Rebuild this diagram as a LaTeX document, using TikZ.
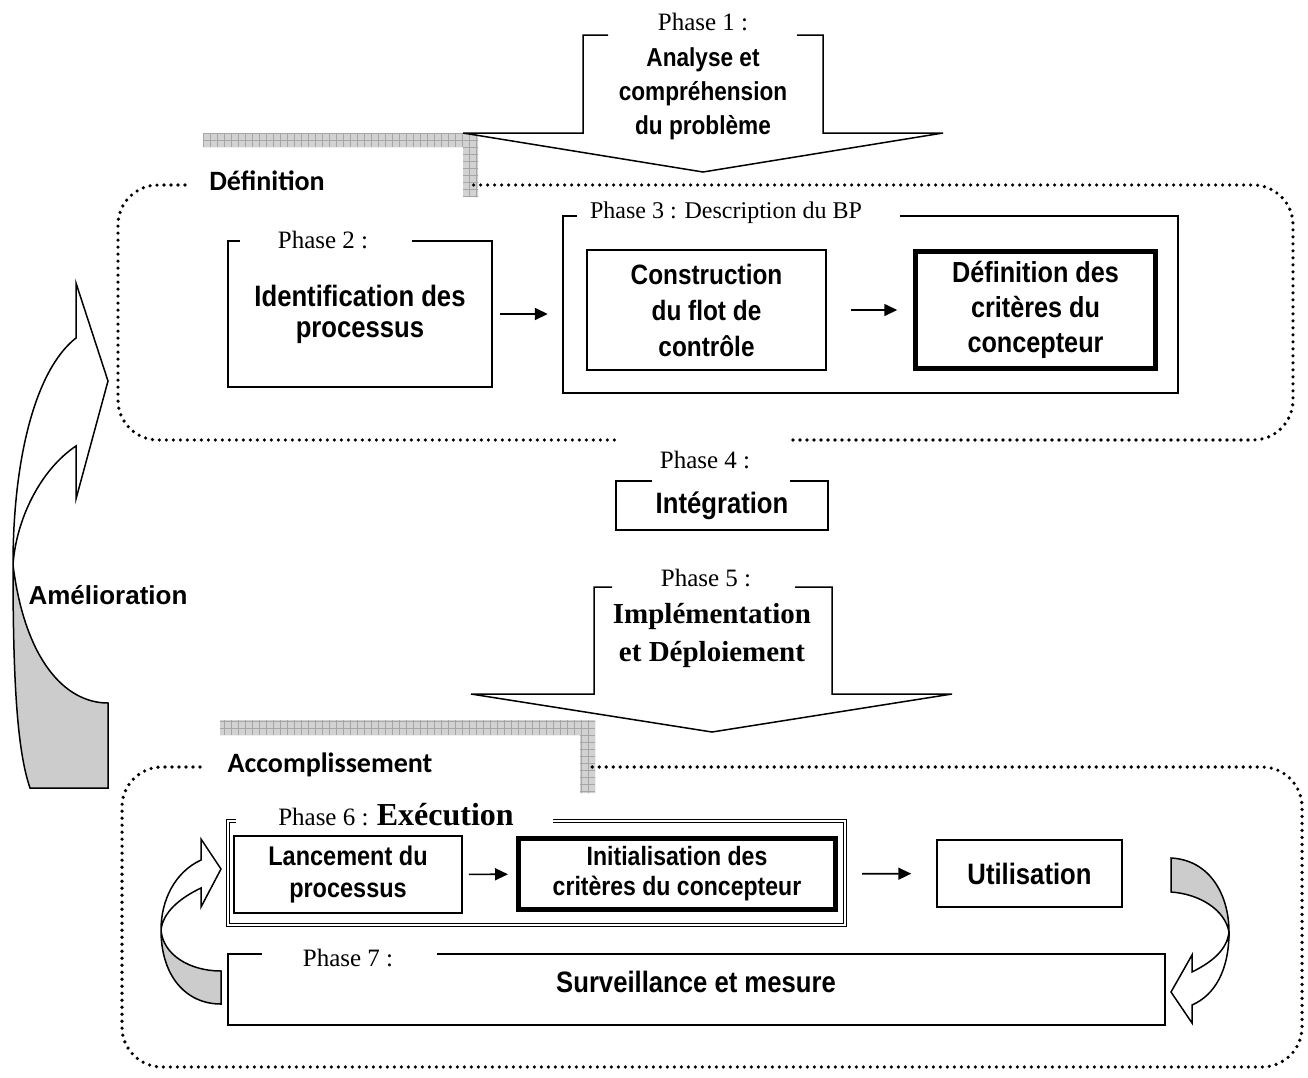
\documentclass[tikz,border=0pt]{standalone}
\usepackage{fontspec}
\setmainfont{Liberation Serif}
\setsansfont[FakeStretch=0.87]{Liberation Sans}
\newfontfamily\arialfont{Liberation Sans}
\newfontfamily\calibrifont{Carlito}
\usetikzlibrary{arrows.meta,positioning}
\newcommand{\fsz}[2]{\fontsize{#1}{#2}\selectfont}
\tikzset{
  textbox/.style={inner sep=0pt, align=center, font=\sffamily\bfseries\fsz{29}{33}},
  stepbox/.style={textbox, draw, line width=1.5pt},
  keybox/.style={stepbox, line width=4.5pt},
  rim/.style={line width=1.5pt},
  phaselbl/.style={inner sep=0pt, font=\rmfamily\fsz{25}{28}},
  zonelbl/.style={inner sep=0pt, font=\calibrifont\bfseries\fsz{28}{30}},
  zone/.style={line width=3.6pt, dash pattern=on 0pt off 7pt, line cap=round, rounded corners=40pt},
  bigarrow/.style={draw, line width=1.5pt, line join=miter},
  bendfront/.style={draw, line width=1.5pt, fill=white, line join=miter},
  bendback/.style={bendfront, fill=gray!40},
  flow/.style={-{Triangle[length=13pt,width=12pt]}, line width=1.6pt}
}

\begin{document}
\begin{tikzpicture}[x=1pt, y=-1pt]
\useasboundingbox (0,0) rectangle (1308,1077);

% shaded tabs
\begin{scope}
  \clip (203,133) -- (478,133) -- (478,197) -- (463,197) -- (463,147) -- (203,147) -- cycle;
  \fill[gray!35] (200,130) rectangle (480,200);
  \draw[gray!70, line width=0.5pt, step=7pt] (196,203) grid (483,126);
\end{scope}
\begin{scope}
  \clip (220,720) -- (595,720) -- (595,793) -- (580,793) -- (580,735) -- (220,735) -- cycle;
  \fill[gray!35] (216,716) rectangle (598,796);
  \draw[gray!70, line width=0.5pt, step=7pt] (213,798) grid (600,714);
\end{scope}

% zones
\draw[zone] (185,185) -- (118,185) -- (118,440) -- (620,440);
\draw[zone] (793,440) -- (1293,440) -- (1293,185) -- (470,185);
\node[zonelbl] (defzone) at (267,181) {Définition};

\draw[zone] (200,767) -- (122,767) -- (122,1067) -- (1302,1067) -- (1302,767) -- (588,767);
\node[zonelbl] (acczone) at (330,765) {Accomplissement};

% phase 1
\draw[bigarrow] (608,35) -- (583,35) -- (583,133) -- (463,133) -- (703,172) -- (943,133) -- (823,133) -- (823,35) -- (797,35);
\node[phaselbl] (ph1lbl) at (703,22) {Phase 1 :};
\node[textbox, font=\sffamily\bfseries\fsz{26}{34}] (analyse) at (703,94) {Analyse et\\compréhension\\du problème};

% phase 2
\node[textbox, minimum width=264pt, minimum height=146pt, font=\sffamily\bfseries\fsz{29.5}{31}] (ph2) at (360,314) {Identification des\\processus};
\draw[rim] ([xshift=12pt]ph2.north west) -- (ph2.north west) -- (ph2.south west) -- (ph2.south east) -- (ph2.north east) -- ([xshift=-80pt]ph2.north east);
\node[phaselbl] (ph2lbl) at (323,240) {Phase 2 :};

% phase 3
\node[textbox, minimum width=615pt, minimum height=177pt] (ph3) at (870.5,304.5) {};
\draw[rim] ([xshift=14pt]ph3.north west) -- (ph3.north west) -- (ph3.south west) -- (ph3.south east) -- (ph3.north east) -- ([xshift=-278pt]ph3.north east);
\node[phaselbl, font=\rmfamily\fsz{24}{28}] (ph3lbl) at (726,213) {Phase 3 : Description du BP};
\node[stepbox, minimum width=239pt, minimum height=120pt, font=\sffamily\bfseries\fsz{28}{36}] (flot) at (706.5,310) {Construction\\du flot de\\contrôle};
\node[keybox, minimum width=240pt, minimum height=117pt, font=\sffamily\bfseries\fsz{29}{35}] (critdef) at (1035.5,310) {Définition des\\critères du\\concepteur};

\draw[flow, shorten <=8pt, shorten >=15pt] (ph2) -- (ph2 -| ph3.west);
\draw[flow, shorten <=24pt, shorten >=16pt] (flot) -- (critdef);

% phase 4
\node[textbox, minimum width=212pt, minimum height=49pt, font=\sffamily\bfseries\fsz{29.5}{30}] (ph4) at (722,505.5) {Intégration};
\draw[rim] ([xshift=36pt]ph4.north west) -- (ph4.north west) -- (ph4.south west) -- (ph4.south east) -- (ph4.north east) -- ([xshift=-38pt]ph4.north east);
\node[phaselbl] (ph4lbl) at (705,460) {Phase 4 :};

% amelioration
\draw[bendback] (13,565) .. controls (25,660) and (65,703) .. (108,703) -- (108,788) -- (30,788) .. controls (17,750) and (13,680) .. (13,565) -- cycle;
\draw[bendfront] (13,565) .. controls (13,460) and (35,370) .. (76,338) -- (76,283) -- (108,381) -- (76,499) -- (76,446) .. controls (40,470) and (16,520) .. (13,565) -- cycle;
\node[textbox, font=\arialfont\bfseries\fsz{26}{30}] (amelio) at (108,595) {Amélioration};

% phase 5
\draw[bigarrow] (612,587) -- (594,587) -- (594,694) -- (471,694) -- (712,732) -- (952,694) -- (832,694) -- (832,587) -- (795,587);
\node[phaselbl] (ph5lbl) at (706,578) {Phase 5 :};
\node[textbox, font=\rmfamily\bfseries\fsz{29}{38}] (deploi) at (712,635) {Implémentation\\et Déploiement};

% phase 6
\node[textbox, minimum width=617pt, minimum height=104pt] (ph6) at (536.5,873) {};
\draw[double, line width=0.9pt, double distance=2.4pt] ([xshift=8pt]ph6.north west) -- (ph6.north west) -- (ph6.south west) -- (ph6.south east) -- (ph6.north east) -- ([xshift=-292pt]ph6.north east);
\node[phaselbl] (ph6lbl) at (396,815) {Phase 6 : {\bfseries\fsz{32}{34}Exécution}};
\node[stepbox, minimum width=228pt, minimum height=77pt, font=\sffamily\bfseries\fsz{27}{32}] (lanc) at (348,874.5) {Lancement du\\processus};
\node[keybox, minimum width=317pt, minimum height=71pt, line width=5pt, font=\sffamily\bfseries\fsz{26.5}{30}] (init) at (677,874) {Initialisation des\\critères du concepteur};
\node[stepbox, minimum width=185pt, minimum height=67pt, font=\sffamily\bfseries\fsz{29.5}{30}] (util) at (1029.5,873.5) {Utilisation};

\draw[flow, shorten <=6pt, shorten >=8pt] (lanc) -- (init);
\draw[flow, shorten <=24pt, shorten >=25pt] (init) -- (util);

% phase 7
\node[textbox, minimum width=937pt, minimum height=71pt] (ph7) at (696.5,989.5) {};
\draw[rim] ([xshift=34pt]ph7.north west) -- (ph7.north west) -- (ph7.south west) -- (ph7.south east) -- (ph7.north east) -- ([xshift=-728pt]ph7.north east);
\node[phaselbl] (ph7lbl) at (348,958) {Phase 7 :};
\node[textbox, font=\sffamily\bfseries\fsz{29.5}{30}] (surv) at (696,982) {Surveillance et mesure};

% loop arrows
\draw[bendback] (161,930) .. controls (163,955) and (190,971) .. (221,971) -- (221,1004) .. controls (185,1004) and (161,975) .. (161,930) -- cycle;
\draw[bendfront] (161,930) .. controls (161,900) and (175,872) .. (201,860) -- (201,839) -- (221,869) -- (201,907) -- (201,888) .. controls (180,898) and (163,912) .. (161,930) -- cycle;

\draw[bendback] (1171,858) -- (1171,892) .. controls (1200,894) and (1225,910) .. (1229,932) .. controls (1229,895) and (1210,860) .. (1171,858) -- cycle;
\draw[bendfront] (1229,932) .. controls (1229,970) and (1215,995) .. (1192,1005) -- (1192,1023) -- (1171,992) -- (1192,955) -- (1192,972) .. controls (1212,962) and (1227,950) .. (1229,932) -- cycle;
\end{tikzpicture}
\end{document}
